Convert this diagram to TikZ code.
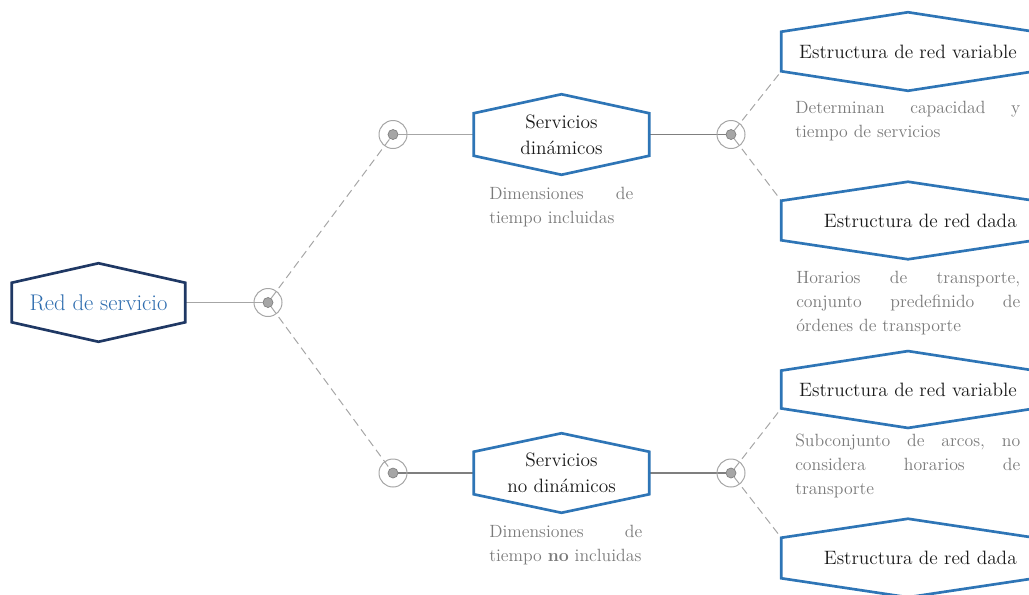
\documentclass[tikz,border=0pt]{standalone}
\usetikzlibrary{calc}

\definecolor{hexblue}{HTML}{2E75B6}
\definecolor{navy}{HTML}{1F3864}
\definecolor{rootblue}{HTML}{2E6DAF}
\definecolor{notegray}{HTML}{7A7A7A}
\definecolor{wire}{HTML}{A6A6A6}
\definecolor{wiredark}{HTML}{7F7F7F}
\definecolor{titleink}{HTML}{1A1A1A}

% outline of a stretched hexagon around an (empty) node
\newcommand\hexoutline[3]{%
  \draw[#3] (#1.south west) -- (#1.north west) -- ($(#1.north)+(0,-#2)$)
    -- (#1.north east) -- (#1.south east) -- ($(#1.south)+(0,#2)$) -- cycle;}

\tikzset{
  hexcore/.style 2 args={rectangle, inner sep=0pt, minimum width=#1, minimum height=#2},
  hexline/.style={draw=hexblue, line width=2pt, line join=miter, fill=white},
  rootline/.style={draw=navy, line width=2pt, line join=miter, fill=white},
  title/.style={inner sep=0pt, text=titleink, font=\fontsize{14.5}{19.5}\selectfont, align=center},
  roottitle/.style={inner sep=0pt, text=rootblue, font=\fontsize{17}{20}\selectfont},
  note/.style={inner sep=0pt, anchor=north west, text=notegray, align=left,
    font=\fontsize{13.3}{18.2}\selectfont},
  hub/.style={circle, inner sep=0pt, minimum size=7.5pt, fill=wire, draw=wiredark, line width=0.5pt},
  ring/.style={draw=wire, line width=0.75pt},
  link/.style={draw=wire, line width=0.9pt},
  linkdark/.style={draw=wiredark, line width=0.9pt},
  branch/.style={draw=wire, line width=0.75pt, dash pattern=on 6pt off 3.5pt},
}

\begin{document}
\begin{tikzpicture}[x=0.75pt, y=-0.75pt]
\useasboundingbox (0,0) rectangle (1029,594);
\clip (0,0) rectangle (1029,594);

% ---- hubs
\node[hub] (c0) at (268,302.5) {};
\node[hub] (c1) at (393,134.5) {};
\node[hub] (c2) at (393,473) {};
\node[hub] (c3) at (731,134.5) {};
\node[hub] (c4) at (731,473) {};

% ---- hexagon cores
\node[hexcore={129.75pt}{29.25pt}] (root) at (98.5,302.5) {};
\node[hexcore={131.25pt}{31.5pt}] (m1) at (561.5,134.5) {};
\node[hexcore={131.25pt}{31.5pt}] (m2) at (561.5,473) {};
\node[hexcore={189.75pt}{29.25pt}] (v1) at (908,51.5) {};
\node[hexcore={189.75pt}{29.25pt}] (d1) at (908,220.5) {};
\node[hexcore={189.75pt}{28pt}] (v2) at (908,389.5) {};
\node[hexcore={189.75pt}{30pt}] (d2) at (908,558) {};

% ---- connectors
\draw[link] (root.east) -- (c0);
\draw[branch] (c0) -- (c1);
\draw[branch] (c0) -- (c2);
\draw[link] (c1) -- (m1.west);
\draw[linkdark] (c2) -- (m2.west);
\draw[linkdark] (m1.east) -- (c3);
\draw[linkdark] (m2.east) -- (c4);
\draw[branch] (c3) -- (v1.south west);
\draw[branch] (c3) -- (d1.north west);
\draw[branch] (c4) -- (v2.south west);
\draw[branch] (c4) -- (d2.north west);

\foreach \h in {c0,c1,c2,c3,c4} \draw[ring] (\h) circle (10.5pt);

% ---- hexagons
\hexoutline{root}{19.5}{rootline}
\hexoutline{m1}{19}{hexline}
\hexoutline{m2}{18.5}{hexline}
\hexoutline{v1}{19.5}{hexline}
\hexoutline{d1}{19}{hexline}
\hexoutline{v2}{19.5}{hexline}
\hexoutline{d2}{19}{hexline}

% ---- titles
\node[roottitle] (roott) at (root.center) {Red de servicio};
\node[title] (m1t) at (m1.center) {Servicios\\dinámicos};
\node[title] (m2t) at (m2.center) {Servicios\\no dinámicos};
\node[title] (v1t) at (908,51.5) {Estructura de red variable};
\node[title, anchor=east] (d1t) at (1017,220.5) {Estructura de red dada};
\node[title] (v2t) at (908,389.5) {Estructura de red variable};
\node[title, anchor=east] (d2t) at (1017,558) {Estructura de red dada};

% ---- notes
\node[note, text width=108pt] (n1) at (489,186.5) {Dimensiones\hfill de\\tiempo incluidas};
\node[note, text width=114.75pt] (n2) at (489,524.5) {Dimensiones\hfill de\\tiempo \textbf{no} incluidas};
\node[note, text width=168.75pt] (n3) at (795,100.5) {Determinan\hfill capacidad\hfill y\\tiempo de servicios};
\node[note, text width=168pt] (n4) at (796,270.5) {Horarios\hfill de\hfill transporte,\\conjunto\hfill predefinido\hfill de\\órdenes de transporte};
\node[note, text width=168.75pt] (n5) at (795,433.5) {Subconjunto\hfill de\hfill arcos,\hfill no\\considera\hfill horarios\hfill de\\transporte};
\end{tikzpicture}
\end{document}
